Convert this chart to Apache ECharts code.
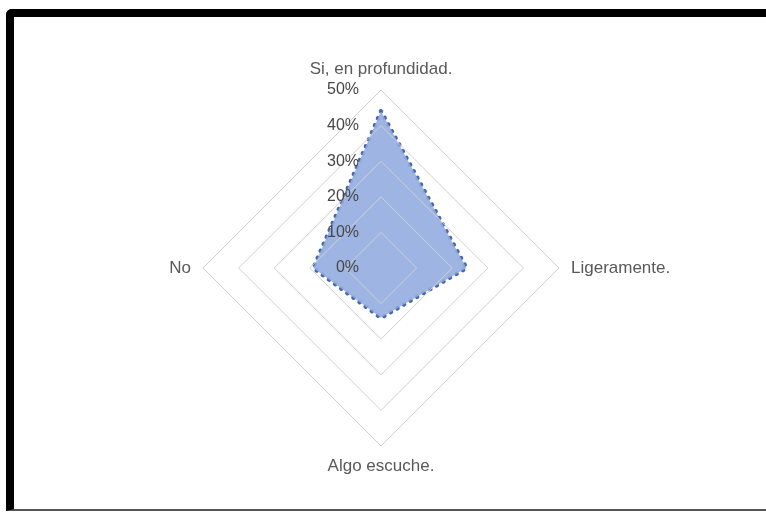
<!DOCTYPE html>
<html>
<head>
<meta charset="utf-8">
<script src="https://cdn.jsdelivr.net/npm/echarts@6/dist/echarts.min.js"></script>
<style>
  html, body { margin: 0; padding: 0; background: #ffffff; }
  #frame {
    position: absolute; left: 6px; top: 9px; width: 800px; height: 492px;
    border-top: 8px solid #000; border-left: 8px solid #000; border-bottom: 2px solid #555;
    border-top-left-radius: 6px; box-sizing: content-box;
  }
  #chart { position: absolute; left: 0; top: 0; width: 766px; height: 512px; }
</style>
</head>
<body>
<div id="frame"></div>
<div id="chart"></div>
<script>
// Categories in Excel (clockwise) order, starting at top
const categories = ["Si, en profundidad.", "Ligeramente.", "Algo escuche.", "No"];
const values = [44, 24, 14, 19];
const tickLabels = ["0%", "10%", "20%", "30%", "40%", "50%"];
const axisMin = 0, axisMax = 50, splitCount = 5;

// ECharts places indicators counter-clockwise; reorder to draw clockwise like Excel
const order = [0, 3, 2, 1];
const indicator = order.map(function (i, k) {
  const ind = { name: categories[i], min: axisMin, max: axisMax };
  if (k === 0) {
    ind.axisLabel = {
      show: true,
      color: '#474747',
      fontFamily: 'Liberation Sans',
      fontSize: 16,
      margin: 22,
      formatter: function (v) { return tickLabels[Math.round(v / 10)]; }
    };
  }
  return ind;
});
const drawnValues = order.map(function (i) { return values[i]; });

const chart = echarts.init(document.getElementById('chart'), null, { renderer: 'canvas' });
chart.setOption({
  backgroundColor: 'transparent',
  animation: false,
  radar: {
    z: 3,
    center: [381, 268],
    radius: 178,
    startAngle: 90,
    shape: 'polygon',
    splitNumber: splitCount,
    indicator: indicator,
    nameGap: 12,
    axisName: {
      color: '#595959',
      fontFamily: 'Liberation Sans',
      fontSize: 17
    },
    axisLine: { show: false },
    axisTick: { show: false },
    axisLabel: { show: false },
    splitLine: { lineStyle: { color: '#cfcfcf', width: 1 } },
    splitArea: { show: false }
  },
  series: [{
    type: 'radar',
    z: 2,
    symbol: 'none',
    data: [{
      value: drawnValues,
      areaStyle: { color: '#93ade0', opacity: 0.9 },
      lineStyle: { color: '#4565ad', width: 4.5, type: [0.1, 7.5], cap: 'round' }
    }]
  }]
});
</script>
</body>
</html>
